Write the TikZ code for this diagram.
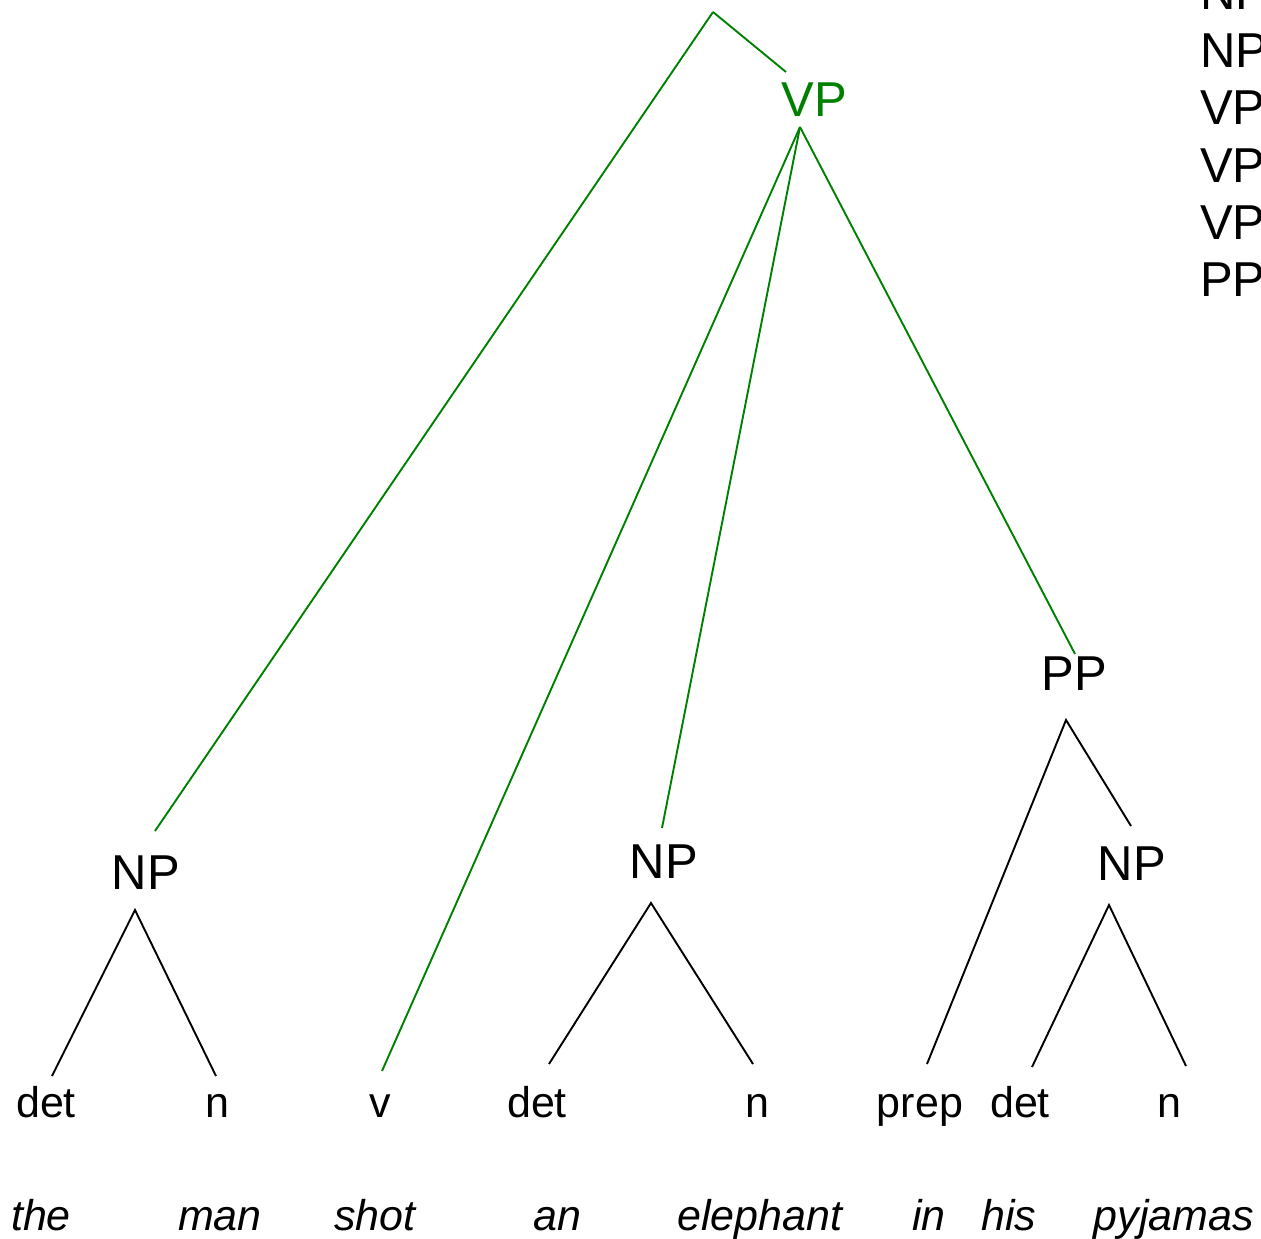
\documentclass[tikz,border=0pt]{standalone}
\usepackage{fontspec}
\setmainfont{Liberation Sans}
\usepackage{xcolor}
\usepackage{tikz}
\definecolor{vpgreen}{RGB}{0,128,0}
\tikzstyle{cat}=[anchor=base, inner sep=0pt, font=\fontsize{49}{58}\selectfont]
\tikzstyle{tag}=[anchor=base, inner sep=0pt, font=\fontsize{43}{52}\selectfont]
\tikzstyle{word}=[anchor=base, inner sep=0pt, font=\fontsize{43}{52}\selectfont\itshape]
\tikzstyle{rule}=[anchor=base west, inner sep=0pt, font=\fontsize{49}{58}\selectfont]
\tikzstyle{branch}=[line width=1.9pt]
\tikzstyle{hilite}=[branch, draw=vpgreen]

\begin{document}
\begin{tikzpicture}[x=1pt,y=-1pt]
\useasboundingbox (0,0) rectangle (1261,1239);
\clip (0,0) rectangle (1261,1239);
% rule list, cut off at the right
\node[rule] (r1) at (1200, 10) {NP};
\node[rule] (r2) at (1200, 67) {NP};
\node[rule] (r3) at (1200,124) {VP};
\node[rule] (r4) at (1200,182) {VP};
\node[rule] (r5) at (1200,239) {VP};
\node[rule] (r6) at (1200,296) {PP};
% categories
\coordinate (root) at (713,12);
\node[cat, text=vpgreen] (vp) at (814,116) {VP};
\node[cat] (np1) at (146,889) {NP};
\node[cat] (np2) at (664,878) {NP};
\node[cat] (pp) at (1074,690) {PP};
\node[cat] (np3) at (1132,880) {NP};
\coordinate (vp-up) at (786,72);
\coordinate (vp-dn) at (800,127);
\coordinate (np1-up) at (155,831);
\coordinate (np1-dn) at (135,910);
\coordinate (np2-up) at (662,828);
\coordinate (np2-dn) at (651,903);
\coordinate (pp-up) at (1075,654);
\coordinate (pp-dn) at (1066,720);
\coordinate (np3-up) at (1131,826);
\coordinate (np3-dn) at (1109,905);
% parts of speech
\node[tag] (det1) at (46,1117) {det};
\node[tag] (n1) at (217,1117) {n};
\node[tag] (v) at (380,1117) {v};
\node[tag] (det2) at (537,1117) {det};
\node[tag] (n2) at (757,1117) {n};
\node[tag] (prep) at (920,1117) {prep};
\node[tag] (det3) at (1020,1117) {det};
\node[tag] (n3) at (1169,1117) {n};
\coordinate (det1-up) at (52,1076);
\coordinate (n1-up) at (216,1076);
\coordinate (v-up) at (382,1071);
\coordinate (det2-up) at (549,1064);
\coordinate (n2-up) at (753,1064);
\coordinate (prep-up) at (927,1064);
\coordinate (det3-up) at (1032,1067);
\coordinate (n3-up) at (1186,1066);
% words
\node[word] (w1) at (41,1230) {the};
\node[word] (w2) at (220,1230) {man};
\node[word] (w3) at (375,1230) {shot};
\node[word] (w4) at (557,1230) {an};
\node[word] (w5) at (760,1230) {elephant};
\node[word] (w6) at (929,1230) {in};
\node[word] (w7) at (1009,1230) {his};
\node[word] (w8) at (1174,1230) {pyjamas};
% green part
\draw[hilite] (root) -- (vp-up);
\draw[hilite] (root) -- (np1-up);
\draw[hilite] (vp-dn) -- (v-up);
\draw[hilite] (vp-dn) -- (np2-up);
\draw[hilite] (vp-dn) -- (pp-up);
% black part
\draw[branch] (det1-up) -- (np1-dn) -- (n1-up);
\draw[branch] (det2-up) -- (np2-dn) -- (n2-up);
\draw[branch] (prep-up) -- (pp-dn) -- (np3-up);
\draw[branch] (det3-up) -- (np3-dn) -- (n3-up);
\end{tikzpicture}
\end{document}
